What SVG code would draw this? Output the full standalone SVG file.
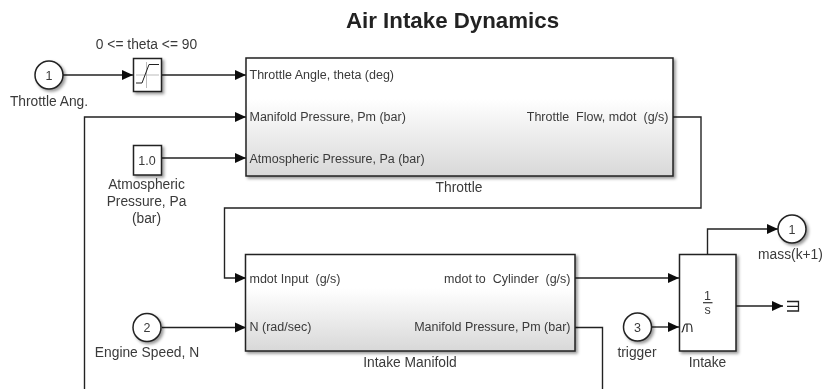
<svg xmlns="http://www.w3.org/2000/svg" width="824" height="389" viewBox="0 0 824 389">
<style>
text{font-family:"Liberation Sans",Arial,sans-serif;font-size:13.8px;fill:#3a3a3a;white-space:pre}
.p{font-size:12.5px}
.m{text-anchor:middle}
.e{text-anchor:end}
.b{fill:#fff;stroke:#222;stroke-width:1.5}
.w{fill:none;stroke:#222;stroke-width:1.4}
</style>
<defs>
<linearGradient id="g" x1="0" y1="0" x2="0" y2="1"><stop offset="0.35" stop-color="#fff"/><stop offset="1" stop-color="#d8d8d8"/></linearGradient>
<filter id="s" x="-20%" y="-20%" width="150%" height="150%"><feDropShadow dx="2" dy="2" stdDeviation="1.6" flood-color="#000" flood-opacity="0.4"/></filter>
<filter id="soft" filterUnits="userSpaceOnUse" x="0" y="0" width="824" height="389"><feGaussianBlur stdDeviation="0.4"/></filter>
<marker id="a" markerUnits="userSpaceOnUse" markerWidth="12" markerHeight="11" refX="11" refY="5.500" orient="auto"><path d="M0 0.500L11 5.500L0 10.500z" fill="#111"/></marker>
</defs>
<rect width="824" height="389" fill="#fff"/>
<g filter="url(#soft)">
<text id="title" x="452.500" y="27.500" class="m" style="font-size:22.300px;font-weight:bold;fill:#222">Air Intake Dynamics</text>
<g id="connectors">
<path class="w" marker-end="url(#a)" d="M63 75H133"/>
<path class="w" marker-end="url(#a)" d="M162 75H246"/>
<path class="w" marker-end="url(#a)" d="M84.500 389V117H246"/>
<path class="w" marker-end="url(#a)" d="M162 158H246"/>
<path class="w" marker-end="url(#a)" d="M673 117H701V208H224.500V278H246"/>
<path class="w" marker-end="url(#a)" d="M575 278H679"/>
<path class="w" marker-end="url(#a)" d="M162 327.500H246"/>
<path class="w" d="M575 327.500H602.500V389"/>
<path class="w" marker-end="url(#a)" d="M707.500 254V229H778"/>
<path class="w" marker-end="url(#a)" d="M736 306H783"/>
<path class="w" marker-end="url(#a)" d="M652 327H679"/>
</g>
<g id="inport1"><circle class="b" filter="url(#s)" cx="49" cy="75" r="14"/><text x="49" y="79.500" class="p m">1</text><text x="49" y="106" class="m">Throttle Ang.</text></g>
<g id="saturation"><rect class="b" filter="url(#s)" x="133.500" y="58.500" width="28" height="33"/><path d="M146.500 62V88M136 75H159" stroke="#bbb" fill="none"/><path d="M136 83H142L149 64.500H159" stroke="#222" fill="none"/><text x="146.500" y="49" class="m">0 &lt;= theta &lt;= 90</text></g>
<g id="constant"><rect class="b" filter="url(#s)" x="133.500" y="145.500" width="28" height="29.500"/><text x="147" y="164.500" class="p m">1.0</text><text x="146.500" y="189" class="m">Atmospheric</text><text x="146.500" y="206" class="m">Pressure, Pa</text><text x="146.500" y="223" class="m">(bar)</text></g>
<g id="throttle"><rect class="b" filter="url(#s)" style="fill:url(#g)" x="246" y="58" width="427" height="118"/><text class="p" x="249.500" y="78.500">Throttle Angle, theta (deg)</text><text class="p" x="249.500" y="120.500">Manifold Pressure, Pm (bar)</text><text class="p" x="249.500" y="162.500">Atmospheric Pressure, Pa (bar)</text><text x="668.500" y="120.500" class="p e">Throttle  Flow, mdot  (g/s)</text><text x="459" y="191.500" class="m">Throttle</text></g>
<g id="manifold"><rect class="b" filter="url(#s)" style="fill:url(#g)" x="245.500" y="254.500" width="329.500" height="96.500"/><text class="p" x="249.500" y="282.500">mdot Input  (g/s)</text><text class="p" x="249.500" y="331">N (rad/sec)</text><text x="570.500" y="282.500" class="p e">mdot to  Cylinder  (g/s)</text><text x="570.500" y="331" class="p e">Manifold Pressure, Pm (bar)</text><text x="410" y="367" class="m">Intake Manifold</text></g>
<g id="inport2"><circle class="b" filter="url(#s)" cx="147" cy="327.500" r="14"/><text x="147" y="332" class="p m">2</text><text x="147" y="357" class="m">Engine Speed, N</text></g>
<g id="inport3"><circle class="b" filter="url(#s)" cx="637.500" cy="327" r="14"/><text x="637.500" y="331.500" class="p m">3</text><text x="637" y="357" class="m">trigger</text></g>
<g id="intake"><rect class="b" filter="url(#s)" x="679.500" y="254.500" width="56.500" height="96.500"/><text x="707.500" y="300" class="p m">1</text><path d="M703 302.700H712.500" stroke="#333" stroke-width="1.200"/><text x="707.500" y="314" class="p m">s</text><path d="M681.500 332C684 332 683 324 686 324H690C692 324 692 330 692 332M687 324V332" fill="none" stroke="#222" stroke-width="1.200"/><text x="707.500" y="367" class="m">Intake</text></g>
<g id="outport1"><circle class="b" filter="url(#s)" cx="792" cy="229" r="14"/><text x="792" y="233.500" class="p m">1</text><text x="790.500" y="259" class="m">mass(k+1)</text></g>
<g id="terminator"><path d="M787 301.500H798.500V311H787M787 306.300H798.500" fill="none" stroke="#222" stroke-width="1.300"/></g>
</g>
</svg>
